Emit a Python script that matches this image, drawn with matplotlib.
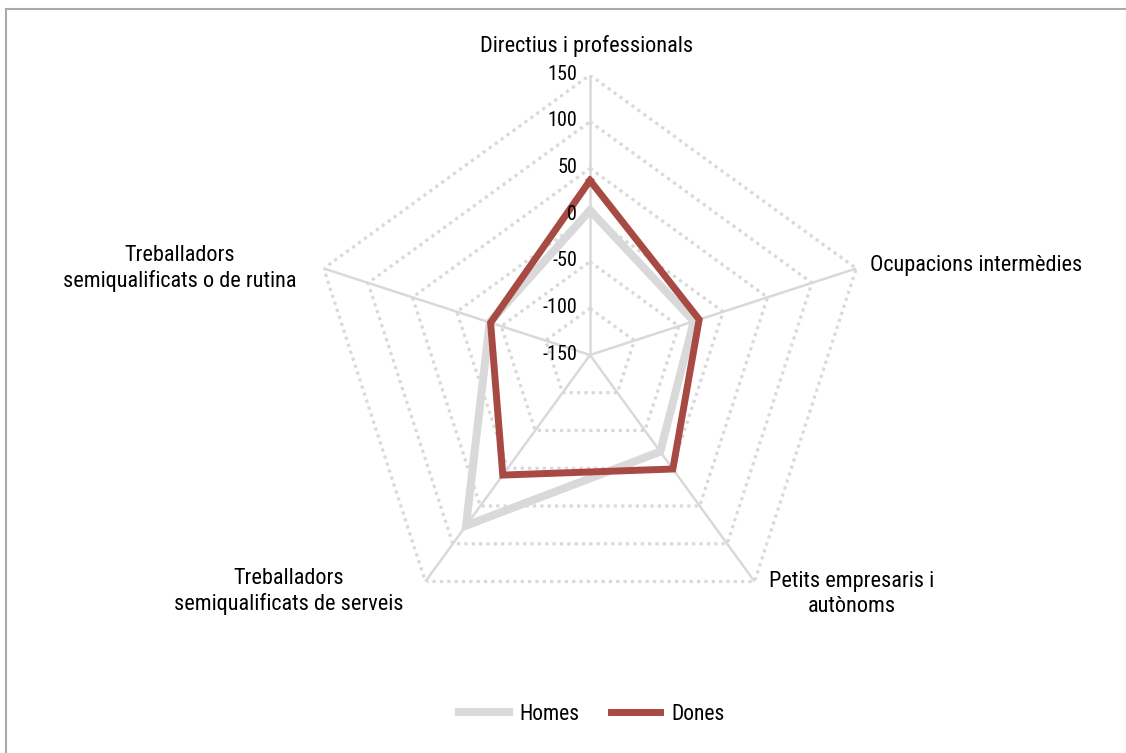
import numpy as np
import matplotlib
matplotlib.use("Agg")
import matplotlib.pyplot as plt
from matplotlib.lines import Line2D

plt.rcParams['font.family'] = ['Roboto Condensed', 'Liberation Sans Narrow', 'Roboto', 'DejaVu Sans']

categories = ["Directius i professionals", "Ocupacions intermèdies",
              "Petits empresaris i\nautònoms", "Treballadors\nsemiqualificats de serveis",
              "Treballadors\nsemiqualificats o de rutina"]
homes = [5, -33, -22, 76, -37]
dones = [37, -27, 1, 9, -38]
ticks = [-150, -100, -50, 0, 50, 100, 150]
series_names = ["Homes", "Dones"]

W, H = 1126, 753
fig = plt.figure(figsize=(W / 100, H / 100), dpi=100)
ax = fig.add_axes([310 / W, 1 - 635 / H, 560 / W, 560 / H], projection='polar')
ax.set_theta_offset(np.pi / 2)
ax.set_theta_direction(-1)
ax.set_ylim(-150, 150)
ax.grid(False)
ax.spines['polar'].set_visible(False)
ax.set_xticks([])
ax.set_yticks([])
ax.patch.set_alpha(0)

n = len(categories)
ang = np.linspace(0, 2 * np.pi, n, endpoint=False)
angc = np.append(ang, ang[0])

gc = '#d9d9d9'
for t in ticks[1:]:
    ax.plot(angc, [t] * (n + 1), color=gc, lw=2.3, ls=(0, (1, 1.3)), zorder=1)
for a in ang:
    ax.plot([a, a], [-150, 150], color=gc, lw=1.8, zorder=1)

ax.plot(angc, homes + homes[:1], color='#d9d9d9', lw=5.8, zorder=3, solid_joinstyle='miter')
ax.plot(angc, dones + dones[:1], color='#a84a44', lw=5.0, zorder=4, solid_joinstyle='miter')

for t in ticks:
    ax.annotate(str(t), xy=(0, t), xytext=(-13, 1), textcoords='offset pixels',
                ha='right', va='center', fontsize=14.5, zorder=5, annotation_clip=False)

offsets = [(-3, 29, 'center'), (14, 3, 'left'), (97, -12, 'center'),
           (-137, -10, 'center'), (-144, 0, 'center')]
for a, lab, (dx, dy, ha) in zip(ang, categories, offsets):
    ax.annotate(lab, xy=(a, 150), xytext=(dx, dy), textcoords='offset pixels',
                ha=ha, va='center', multialignment='center', fontsize=16,
                linespacing=1.25, annotation_clip=False)

handles = [Line2D([], [], color='#d9d9d9', lw=5.8), Line2D([], [], color='#a84a44', lw=5.0)]
fig.legend(handles, series_names, loc='center', bbox_to_anchor=(592 / W, 1 - 714 / H),
           ncol=2, frameon=False, fontsize=15.5, handlelength=2.3, columnspacing=1.45,
           handletextpad=0.5)

# frame lines
fig.add_artist(Line2D([6 / W, 6 / W], [0, 1 - 9 / H], color='#aaaaaa', lw=1.5, transform=fig.transFigure))
fig.add_artist(Line2D([6 / W, 1], [1 - 9 / H, 1 - 9 / H], color='#aaaaaa', lw=1.5, transform=fig.transFigure))

fig.savefig('out.png', dpi=100)
